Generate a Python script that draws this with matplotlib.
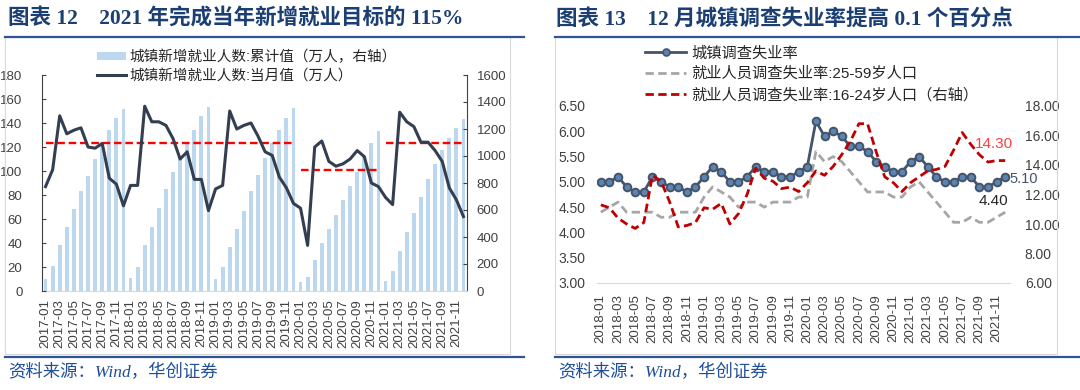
import matplotlib
matplotlib.use("Agg")
import matplotlib.pyplot as plt
import numpy as np
from matplotlib.lines import Line2D
from matplotlib.patches import Patch, Rectangle
from matplotlib.ticker import FormatStrFormatter

plt.rcParams["font.family"] = ["Liberation Sans", "Noto Sans CJK SC"]

# ---- data: left chart (new urban jobs, 2017-01 .. 2021-12) ----
job_months = [f"{y}-{m:02d}" for y in range(2017, 2022) for m in range(1, 13)]
jobs_cum = [
    89, 187, 338, 471, 604, 738, 853, 978, 1097, 1191, 1280, 1351,
    98, 178, 338, 471, 613, 755, 880, 987, 1102, 1190, 1293, 1361,
    89, 178, 329, 462, 596, 738, 862, 987, 1097, 1193, 1279, 1352,
    69, 106, 230, 353, 459, 563, 674, 780, 880, 1002, 1099, 1188,
    77, 148, 294, 437, 575, 699, 827, 941, 1045, 1133, 1210, 1271,
]
jobs_month = [
    87, 101, 146, 131, 134, 136, 120, 119, 123, 94, 89, 71,
    88, 88, 154, 141, 141, 138, 127, 110, 116, 93, 93, 67,
    85, 88, 150, 135, 138, 140, 129, 116, 113, 95, 86, 73,
    69, 38, 120, 125, 108, 104, 106, 110, 117, 112, 90, 87,
    78, 72, 149, 141, 137, 124, 124, 117, 108, 86, 76, 62,
]
target_periods = [("2017-01", "2019-12"), ("2020-01", "2020-12"), ("2021-01", "2021-12")]
target_values = [1100, 900, 1100]

# ---- data: right chart (surveyed unemployment, 2018-01 .. 2021-12) ----
rate_months = [f"{y}-{m:02d}" for y in range(2018, 2022) for m in range(1, 13)]
urban_rate = [
    5.0, 5.0, 5.1, 4.9, 4.8, 4.8, 5.1, 5.0, 4.9, 4.9, 4.8, 4.9,
    5.1, 5.3, 5.2, 5.0, 5.0, 5.1, 5.3, 5.2, 5.2, 5.1, 5.1, 5.2,
    5.3, 6.2, 5.9, 6.0, 5.9, 5.7, 5.7, 5.6, 5.4, 5.3, 5.2, 5.2,
    5.4, 5.5, 5.3, 5.1, 5.0, 5.0, 5.1, 5.1, 4.9, 4.9, 5.0, 5.1,
]
rate_25_59 = [
    4.4, 4.5, 4.6, 4.4, 4.4, 4.4, 4.4, 4.3, 4.3, 4.4, 4.4, 4.4,
    4.7, 4.9, 4.8, 4.7, 4.5, 4.6, 4.6, 4.5, 4.6, 4.6, 4.6, 4.7,
    4.7, 5.6, 5.4, 5.5, 5.4, 5.2, 5.0, 4.8, 4.8, 4.8, 4.7, 4.7,
    4.9, 5.0, 4.8, 4.6, 4.4, 4.2, 4.2, 4.3, 4.2, 4.2, 4.3, 4.4,
]
rate_16_24 = [
    11.3, 11.1, 10.4, 10.0, 9.7, 10.1, 13.3, 12.9, 11.5, 9.8, 9.9, 10.1,
    11.1, 11.0, 11.4, 10.0, 10.7, 12.0, 13.8, 13.1, 12.9, 12.4, 12.5, 12.2,
    12.8, 13.6, 13.3, 13.9, 14.7, 15.6, 16.8, 16.8, 14.9, 13.2, 12.8, 12.2,
    12.8, 13.2, 13.6, 13.7, 13.9, 15.0, 16.2, 15.4, 14.7, 14.2, 14.3, 14.3,
]

W, H = 1080, 390
TITLE_C = "#1B3F73"
RULE_C = "#2F5496"
TICK_C = "#404040"
SERIF_CJK = ["Liberation Serif", "Noto Sans CJK SC"]


def box(x0, y0, x1, y1):
    # pixel box (top-left origin) -> figure fraction rect
    return [x0 / W, 1 - y1 / H, (x1 - x0) / W, (y1 - y0) / H]


fig = plt.figure(figsize=(W / 100, H / 100), dpi=100)

# ---- frames, rules, titles, sources ----
for (x0, x1, fx1) in [(5, 524, 510), (555, 1080, 1057)]:
    fig.add_artist(Rectangle((x0 / W, 1 - 354 / H), (fx1 - x0) / W, (354 - 37) / H,
                             transform=fig.transFigure, fill=False, ec="#D9D9D9", lw=0.8))
    fig.add_artist(Line2D([x0 / W, x1 / W], [1 - 37 / H] * 2, color=RULE_C, lw=1.6))
    fig.add_artist(Line2D([x0 / W, x1 / W], [1 - 357 / H] * 2, color=RULE_C, lw=1.6))

fig.text(8 / W, 1 - 19 / H, "图表 12    2021 年完成当年新增就业目标的 115%", ha="left", va="center",
         fontsize=15.5, fontweight="bold", color=TITLE_C, family=SERIF_CJK)
fig.text(556 / W, 1 - 19 / H, "图表 13    12 月城镇调查失业率提高 0.1 个百分点", ha="left", va="center",
         fontsize=15.5, fontweight="bold", color=TITLE_C, family=SERIF_CJK)
for sx in (8, 558):
    fig.text(sx / W, 1 - 373 / H, "资料来源：Wind，华创证券", ha="left", va="center",
             fontsize=12.5, style="italic", color="#1F4E9A", family=SERIF_CJK)

# ---- left chart ----
x = np.arange(len(job_months))
ax_bar = fig.add_axes(box(42, 75, 467, 291))
ax_line = ax_bar.twinx()

ax_bar.bar(x, jobs_cum, width=0.55, color="#BDD7EE")
for (start, end), val in zip(target_periods, target_values):
    i0, i1 = job_months.index(start), job_months.index(end)
    ax_bar.plot([i0, i1], [val, val], color="#FF0000", lw=1.7, dashes=(3.2, 1.6))
ax_bar.set_ylim(0, 1600)
ax_bar.set_yticks(range(0, 1601, 200))
ax_bar.set_xlim(-0.5, len(job_months) - 0.5)
ax_bar.yaxis.tick_right()
ax_bar.set_xticks(x[::2])
ax_bar.set_xticklabels(job_months[::2], rotation=90, fontsize=9.5, color=TICK_C)
ax_bar.tick_params(axis="x", length=0, pad=6)
ax_bar.tick_params(axis="y", direction="in", length=3, pad=7, labelsize=9.5,
                   labelcolor=TICK_C, color=TICK_C)
for s in ("top", "left"):
    ax_bar.spines[s].set_visible(False)
ax_bar.spines["right"].set_color("#404040")
ax_bar.spines["bottom"].set_color("#D9D9D9")

ax_line.plot(x, jobs_month, color="#333F50", lw=2.2)
ax_line.set_ylim(0, 180)
ax_line.set_yticks(range(0, 181, 20))
ax_line.yaxis.tick_left()
ax_line.tick_params(axis="y", direction="in", length=3, pad=14, labelsize=9.5,
                    labelcolor=TICK_C, color=TICK_C)
for s in ("top", "right", "bottom"):
    ax_line.spines[s].set_visible(False)
ax_line.spines["left"].set_color("#404040")

left_handles = [Patch(facecolor="#BDD7EE", edgecolor="none"),
                Line2D([], [], color="#333F50", lw=2.2)]
left_labels = ["城镇新增就业人数:累计值（万人，右轴）", "城镇新增就业人数:当月值（万人）"]
fig.legend(left_handles, left_labels, loc="upper left", bbox_to_anchor=(97 / W, 1 - 50 / H),
           frameon=False, fontsize=10.5, handlelength=2.0, handleheight=0.5, handletextpad=0.2,
           labelspacing=0.3, borderpad=0, borderaxespad=0, labelcolor="#262626")

# ---- right chart ----
xr = np.arange(len(rate_months))
ax_r = fig.add_axes(box(596.5, 106, 1009.5, 283))
ax_r2 = ax_r.twinx()

ax_r.plot(xr, rate_25_59, color="#A6A6A6", lw=2, dashes=(3, 1.6))
ax_r.plot(xr, urban_rate, color="#44546A", lw=2, marker="o", ms=5.5,
          mfc="#5B84B1", mec="#44546A", mew=1.4)
ax_r.set_ylim(3, 6.5)
ax_r.set_yticks(np.arange(3, 6.51, 0.5))
ax_r.yaxis.set_major_formatter(FormatStrFormatter("%.2f"))
ax_r.set_xlim(-0.5, len(rate_months) - 0.5)
ax_r.set_xticks(xr[::2])
ax_r.set_xticklabels(rate_months[::2], rotation=90, fontsize=9.5, color=TICK_C)
ax_r.tick_params(axis="x", length=0, pad=8)
ax_r.tick_params(axis="y", length=0, pad=8, labelsize=10, labelcolor=TICK_C)
for s in ("top", "left", "right"):
    ax_r.spines[s].set_visible(False)
ax_r.spines["bottom"].set_color("#D9D9D9")

ax_r2.plot(xr, rate_16_24, color="#C00000", lw=2, dashes=(3, 1.6))
ax_r2.set_ylim(6, 18)
ax_r2.set_yticks(range(6, 19, 2))
ax_r2.yaxis.set_major_formatter(FormatStrFormatter("%.2f"))
ax_r2.tick_params(axis="y", length=0, pad=11, labelsize=10, labelcolor=TICK_C)
for s in ("top", "left", "right", "bottom"):
    ax_r2.spines[s].set_visible(False)

last = len(rate_months) - 1
ax_r2.annotate(f"{rate_16_24[-1]:.2f}", xy=(last, rate_16_24[-1]), xytext=(-11, 17),
               textcoords="offset pixels", ha="center", va="center", fontsize=11, color="#FF4040")
ax_r.annotate(f"{urban_rate[-1]:.2f}", xy=(last, urban_rate[-1]), xytext=(4, -2),
              textcoords="offset pixels", ha="left", va="center", fontsize=10.5, color="#44546A")
ax_r.annotate(f"{rate_25_59[-1]:.2f}", xy=(last, rate_25_59[-1]), xytext=(-12, 11),
              textcoords="offset pixels", ha="center", va="center", fontsize=11, color="#262626")

right_handles = [
    Line2D([], [], color="#44546A", lw=2, marker="o", ms=5, mfc="#5B84B1", mec="#44546A", mew=1.2),
    Line2D([], [], color="#A6A6A6", lw=2, dashes=(3, 1.6)),
    Line2D([], [], color="#C00000", lw=2, dashes=(3, 1.6)),
]
right_labels = ["城镇调查失业率", "就业人员调查失业率:25-59岁人口", "就业人员调查失业率:16-24岁人口（右轴）"]
fig.legend(right_handles, right_labels, loc="upper left", bbox_to_anchor=(645 / W, 1 - 46 / H),
           frameon=False, fontsize=11, handlelength=2.7, handletextpad=0.3, numpoints=1,
           labelspacing=0.42, borderpad=0, borderaxespad=0, labelcolor="#262626")

fig.savefig("out.png", dpi=100)
